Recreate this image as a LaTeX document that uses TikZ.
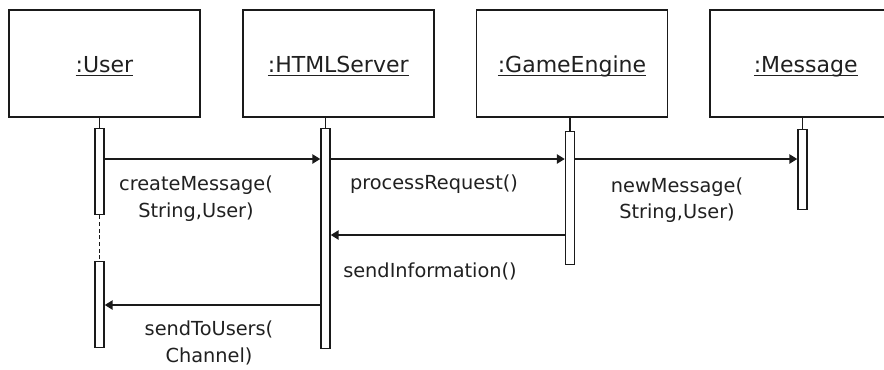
\documentclass[tikz,border=0pt]{standalone}
\usepackage{fontspec}
\setsansfont{DejaVu Sans}
\usepackage{amsmath}
\usepackage{tikz}
\usetikzlibrary{
  arrows.meta,
  positioning,
  calc
}
\definecolor{sqLine}{HTML}{1A1A1A}
\definecolor{sqText}{HTML}{202020}
\newcommand{\objname}[1]{\underline{\smash[b]{#1}}}
\tikzset{
  object/.style={
    draw=sqLine, line width=1.3pt, minimum width=143.25pt, minimum height=80.25pt,
    inner sep=0pt, text height=16pt, text depth=3.2pt, text=sqText,
    font=\sffamily\fontsize{16.5}{20}\selectfont
  },
  activation/.style={
    draw=sqLine, line width=1.1pt, fill=white, minimum width=6.75pt,
    inner sep=0pt, anchor=north
  },
  lifeline/.style={draw=sqLine, line width=1.1pt},
  gap/.style={lifeline, dash pattern=on 3pt off 2pt},
  call/.style={-{Triangle[length=6pt, width=7pt]}, line width=1.3pt, sqLine},
  msglabel/.style={
    font=\sffamily\fontsize{14.5}{20}\selectfont, text=sqText, align=center,
    inner sep=0pt
  }
}

\begin{document}
\begin{tikzpicture}[x=0.75pt, y=-0.75pt, node distance=30.75pt]
  \useasboundingbox (0,0) rectangle (884,369);
  \clip (0,0) rectangle (884,369);

  % objects
  \node[object] (user) at (104.5,63.5) {\objname{:User}};
  \node[object, right=of user] (server) {\objname{:HTMLServer}};
  \node[object, right=of server] (engine) {\objname{:GameEngine}};
  \node[object, right=of engine] (message) {\objname{:Message}};

  % activation bars
  \node[activation, minimum height=64.5pt] (userA) at (99.5,128) {};
  \node[activation, minimum height=64.5pt] (userB) at (99.5,261) {};
  \node[activation, minimum height=165pt] (srvbar) at (325.5,128) {};
  \node[activation, minimum height=99.75pt] (engbar) at (570,131) {};
  \node[activation, minimum height=60pt] (msgbar) at (802.5,129) {};

  % lifelines
  \draw[lifeline] (userA.north |- user.south) -- (userA.north);
  \draw[gap] (userA.south) -- (userB.north);
  \draw[lifeline] (srvbar.north |- server.south) -- (srvbar.north);
  \draw[lifeline] (engbar.north |- engine.south) -- (engbar.north);
  \draw[lifeline] (msgbar.north |- message.south) -- (msgbar.north);

  % message rows
  \coordinate (row1) at (0,159);
  \coordinate (row2) at (0,235);
  \coordinate (row3) at (0,305);

  \draw[call] (userA.east |- row1) -- (srvbar.west |- row1);
  \draw[call] (srvbar.east |- row1) -- (engbar.west |- row1);
  \draw[call] (engbar.east |- row1) -- (msgbar.west |- row1);
  \draw[call] (engbar.west |- row2) -- (srvbar.east |- row2);
  \draw[call] (srvbar.west |- row3) -- (userB.east |- row3);

  % labels
  \node[msglabel] (lcreate) at (196,199) {createMessage(\\String,User)};
  \node[msglabel] (lprocess) at (434,184) {processRequest()};
  \node[msglabel] (lnew) at (677,200) {newMessage(\\String,User)};
  \node[msglabel] (linfo) at (430,271) {sendInformation()};
  \node[msglabel] (lsend) at (209,343) {sendToUsers(\\Channel)};
\end{tikzpicture}
\end{document}
